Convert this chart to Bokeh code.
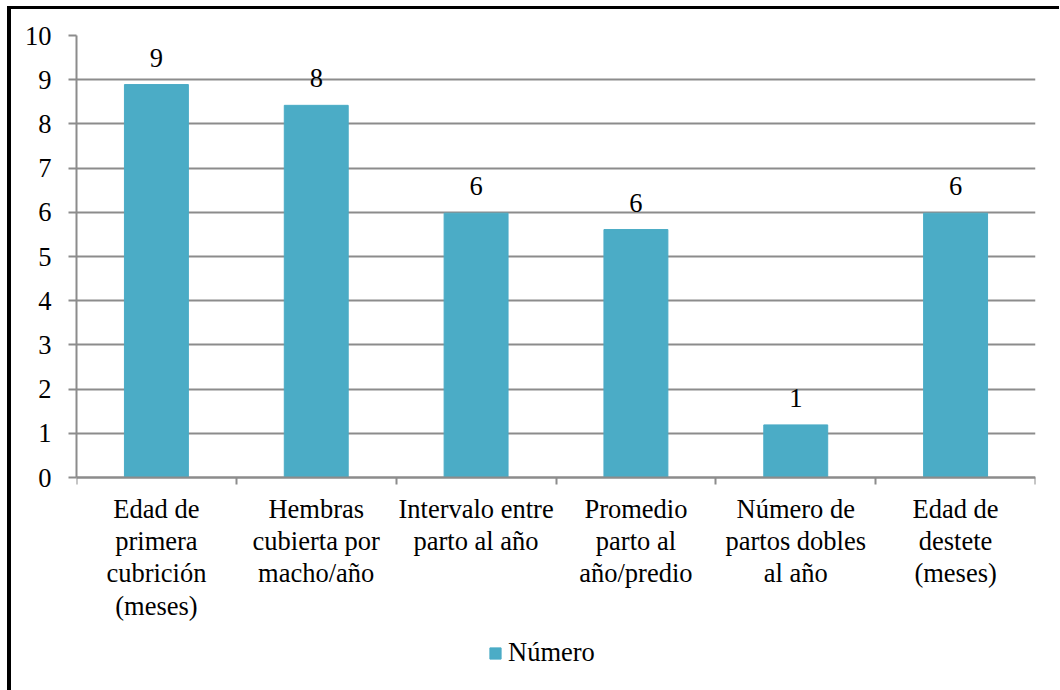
from bokeh.plotting import figure
from bokeh.models import FixedTicker, Legend, LegendItem, Range1d, ColumnDataSource
from bokeh.core.properties import value
from bokeh.embed import file_html
from bokeh.resources import INLINE

categories = [
    "Edad de\nprimera\ncubrición\n(meses)",
    "Hembras\ncubierta por\nmacho/año",
    "Intervalo entre\nparto al año",
    "Promedio\nparto al\naño/predio",
    "Número de\npartos dobles\nal año",
    "Edad de\ndestete\n(meses)",
]
values = [8.89, 8.42, 5.98, 5.61, 1.19, 5.98]
value_labels = ["9", "8", "6", "6", "1", "6"]
series_name = "Número"
y_ticks = list(range(0, 11))

FONT = "Liberation Serif"
FS = "26.5px"
BAR = "#4BACC6"
GRID = "#8C8C8C"

n = len(categories)
xs = [i + 0.5 for i in range(n)]
bounds = [float(i) for i in range(n + 1)]

# plot area: 442 px for 0..10, extended below 0 to hold category labels and legend
PX_PER_UNIT = 44.2
FRAME_H = 655
y_low = -(FRAME_H - 10 * PX_PER_UNIT) / PX_PER_UNIT

src = ColumnDataSource(dict(x=xs, top=values, lab=value_labels))

p = figure(frame_width=959, frame_height=FRAME_H, output_backend="svg", toolbar_location=None,
           x_range=Range1d(0, n), y_range=Range1d(y_low, 10),
           min_border_left=65, min_border_top=26, min_border_right=24, min_border_bottom=0)
p.styles = {"border-top": "3px solid #000", "border-left": "4px solid #000",
            "margin-top": "6px", "margin-left": "7px"}
p.outline_line_color = None
p.background_fill_color = "white"
p.border_fill_color = "white"

r = p.vbar(x="x", top="top", width=0.4, bottom=0, source=src, color=BAR)
p.text(x="x", y="top", text="lab", source=src, text_align="center", text_baseline="bottom",
       y_offset=-18, text_font=value(FONT), text_font_size=FS, text_color="black")

# x axis (drawn at y = 0)
p.xaxis.fixed_location = 0
p.xaxis.ticker = FixedTicker(ticks=xs, minor_ticks=bounds)
p.xaxis.major_label_overrides = {x: c for x, c in zip(xs, categories)}
p.xaxis.major_tick_out = 0
p.xaxis.major_tick_in = 0
p.xaxis.minor_tick_out = 7
p.xaxis.minor_tick_in = 0
p.xaxis.minor_tick_line_color = GRID
p.xaxis.minor_tick_line_width = 2
p.xaxis.axis_line_color = GRID
p.xaxis.axis_line_width = 2
p.xaxis.major_label_standoff = 9
p.xaxis.major_label_text_font = FONT
p.xaxis.major_label_text_font_size = FS
p.xaxis.major_label_text_color = "black"
p.xaxis.major_label_text_line_height = 1.08

# y axis
p.yaxis.ticker = FixedTicker(ticks=y_ticks)
p.yaxis.bounds = (0, 10)
p.yaxis.major_tick_out = 8
p.yaxis.major_tick_in = 0
p.yaxis.minor_tick_line_color = None
p.yaxis.major_tick_line_color = GRID
p.yaxis.major_tick_line_width = 2
p.yaxis.axis_line_color = GRID
p.yaxis.axis_line_width = 2
p.yaxis.major_label_standoff = 17
p.yaxis.major_label_text_font = FONT
p.yaxis.major_label_text_font_size = FS
p.yaxis.major_label_text_color = "black"

p.xgrid.grid_line_color = None
p.ygrid.grid_line_color = GRID
p.ygrid.grid_line_width = 2

legend = Legend(items=[LegendItem(label=series_name, renderers=[r])],
                location=(412, 22), orientation="horizontal",
                label_text_font=FONT, label_text_font_size=FS, label_text_color="black",
                glyph_width=14, glyph_height=14, label_standoff=6,
                padding=0, margin=0, border_line_color=None, background_fill_alpha=0,
                spacing=0)
p.add_layout(legend, "center")

open("out.html", "w").write(file_html(p, INLINE))
